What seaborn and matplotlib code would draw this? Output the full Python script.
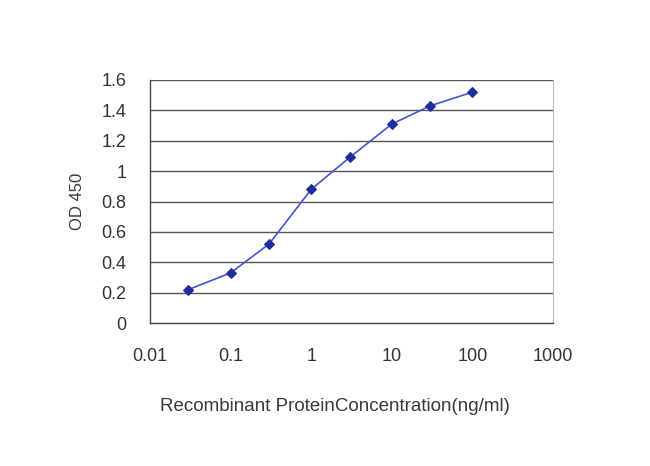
import numpy as np
import pandas as pd
import seaborn as sns
from matplotlib import pyplot as plt

# concentration (ng/ml) and OD450
conc = [0.03, 0.1, 0.3, 1, 3, 10, 30, 100]
od450 = [0.22, 0.33, 0.52, 0.88, 1.09, 1.31, 1.43, 1.52]
xticks = [0.01, 0.1, 1, 10, 100, 1000]
xticklabels = ["0.01", "0.1", "1", "10", "100", "1000"]
yticks = [0, 0.2, 0.4, 0.6, 0.8, 1, 1.2, 1.4, 1.6]
yticklabels = ["0", "0.2", "0.4", "0.6", "0.8", "1", "1.2", "1.4", "1.6"]

df = pd.DataFrame({"conc": conc, "od": od450})

sns.set_style("white")
plt.rcParams["font.family"] = ["Liberation Sans", "DejaVu Sans"]

fig = plt.figure(figsize=(6.5, 4.66), dpi=100)
ax = fig.add_axes([150 / 650, 1 - 323 / 466, 403 / 650, 243 / 466])

sns.lineplot(data=df, x="conc", y="od", ax=ax, color="#4456c8", linewidth=1.2,
             marker="D", markersize=5, markerfacecolor="#1f2d9c",
             markeredgecolor="#1f2d9c")

ax.set_xscale("log")
ax.set_xlim(0.01, 1000)
ax.set_ylim(0, 1.6)
ax.set_xticks(xticks)
ax.set_xticklabels(xticklabels, fontsize=13, color="#333333")
ax.minorticks_off()
ax.set_yticks(yticks)
ax.set_yticklabels(yticklabels, fontsize=13, color="#333333")

for y in yticks[1:]:
    ax.axhline(y, color="#555555", linewidth=1.0, zorder=0)

for side in ["left", "bottom"]:
    ax.spines[side].set_color("#444444")
    ax.spines[side].set_linewidth(1.0)
ax.spines["top"].set_visible(False)
ax.spines["right"].set_color("#bbbbbb")

ax.tick_params(axis="x", direction="in", length=4, color="#444444", pad=18)
ax.tick_params(axis="y", length=0, pad=17)

ax.set_xlabel("Recombinant ProteinConcentration(ng/ml)", fontsize=13.5,
              color="#3a3a3a")
ax.xaxis.set_label_coords(0.46, -0.31)
ax.set_ylabel("OD 450", fontsize=12, color="#3a3a3a", labelpad=12)

plt.savefig("out.png", dpi=100)
